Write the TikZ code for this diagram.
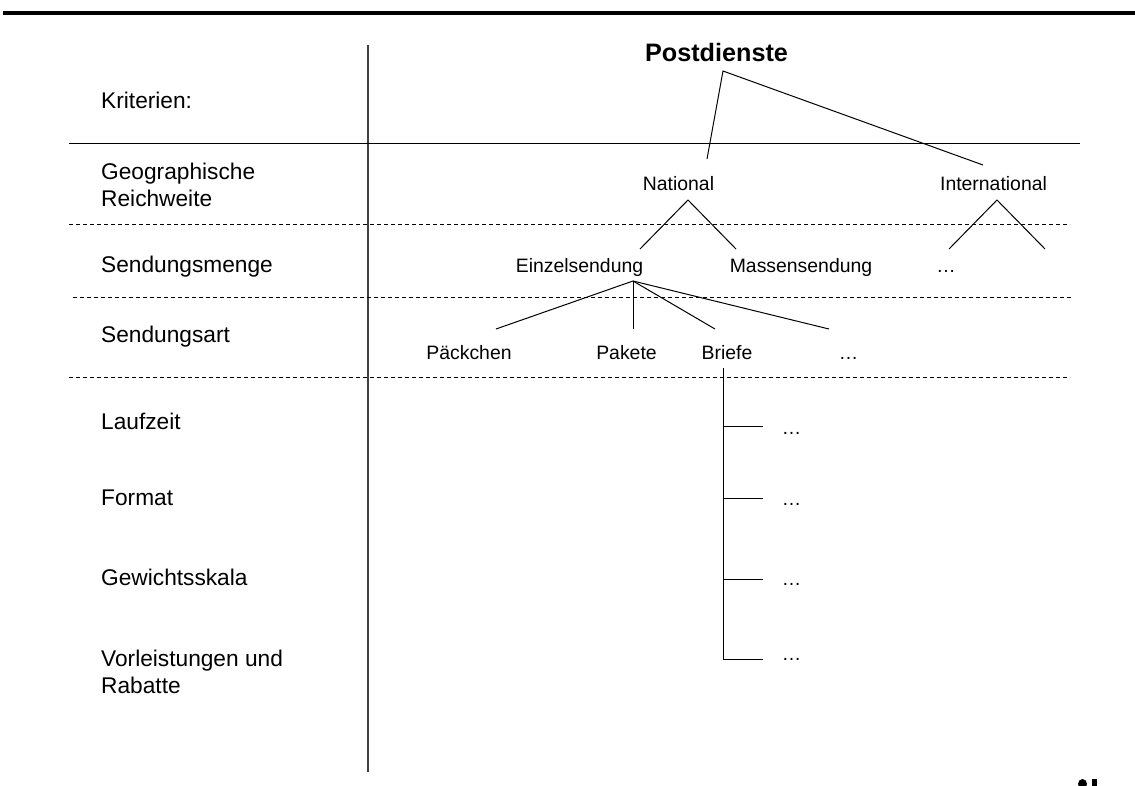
\documentclass[tikz,border=0pt]{standalone}
\usepackage{fontspec}
\setmainfont{Liberation Sans}
\begin{document}
\begin{tikzpicture}[x=1pt,y=-1pt,
  crit/.style={anchor=base west, inner sep=0pt, font=\fontsize{22.7}{27}\selectfont, align=left},
  lbl/.style={anchor=base, inner sep=0pt, font=\fontsize{19.4}{23}\selectfont},
  title/.style={anchor=base, inner sep=0pt, font=\bfseries\fontsize{25.2}{30}\selectfont},
  tline/.style={line width=1pt, black},
  sepline/.style={line width=1pt, dash pattern=on 4pt off 3pt},
  mainline/.style={line width=1pt},
  axisline/.style={line width=1.4pt, black!75}]
\useasboundingbox (0,0) rectangle (1135,785);

% frame lines
\coordinate (topL) at (3,13);   \coordinate (topR) at (1135,13);
\draw[line width=3.5pt] (topL) -- (topR);
\coordinate (axT) at (368,45);  \coordinate (axB) at (368,772);
\draw[axisline] (axT) -- (axB);
\coordinate (h0L) at (69,143);  \coordinate (h0R) at (1080,143);
\draw[mainline] (h0L) -- (h0R);
\coordinate (h1L) at (69,224);  \coordinate (h1R) at (1070,224);
\coordinate (h2L) at (73,297);  \coordinate (h2R) at (1073,297);
\coordinate (h3L) at (69,377);  \coordinate (h3R) at (1070,377);
\draw[sepline] (h1L) -- (h1R);
\draw[sepline] (h2L) -- (h2R);
\draw[sepline] (h3L) -- (h3R);

% criteria (two-line nodes: base = baseline of the last line)
\node[crit] (k0) at (101,108) {Kriterien:};
\node[crit] (k1) at (101,206) {Geographische\\Reichweite};
\node[crit] (k2) at (101,272) {Sendungsmenge};
\node[crit] (k3) at (101,342) {Sendungsart};
\node[crit] (k4) at (101,429) {Laufzeit};
\node[crit] (k5) at (101,505) {Format};
\node[crit] (k6) at (101,585) {Gewichtsskala};
\node[crit] (k7) at (101,693) {Vorleistungen und\\Rabatte};

% tree labels
\node[title] (post) at (716.5,61) {Postdienste};
\node[lbl] (nat) at (678.5,190) {National};
\node[lbl] (int) at (993.5,190) {International};
\node[lbl] (ein) at (579.5,272) {Einzelsendung};
\node[lbl] (mas) at (801,272) {Massensendung};
\node[lbl] (d1) at (946,272) {…};
\node[lbl] (pae) at (469,359) {Päckchen};
\node[lbl] (pak) at (626.5,359) {Pakete};
\node[lbl] (bri) at (727,359) {Briefe};
\node[lbl] (d2) at (848.5,359) {…};
\node[lbl] (b1) at (791.5,434) {…};
\node[lbl] (b2) at (791.5,505) {…};
\node[lbl] (b3) at (791.5,585) {…};
\node[lbl] (b4) at (791.5,660) {…};

% tree connectors
\coordinate (pA) at (723,71);
\coordinate (natT) at (707,159);
\coordinate (intT) at (983,165);
\draw[tline] (natT) -- (pA) -- (intT);

\coordinate (natA) at (688,200);
\coordinate (natL) at (640,249);
\coordinate (natR) at (736,249);
\draw[tline] (natL) -- (natA) -- (natR);

\coordinate (intA) at (997,200);
\coordinate (intL) at (949,249);
\coordinate (intR) at (1045,249);
\draw[tline] (intL) -- (intA) -- (intR);

\coordinate (einA) at (633,281);
\coordinate (e1) at (496,329);
\coordinate (e2) at (633,329);
\coordinate (e3) at (715,329);
\coordinate (e4) at (829,329);
\draw[tline] (einA) -- (e1);
\draw[tline] (einA) -- (e2);
\draw[tline] (einA) -- (e3);
\draw[tline] (einA) -- (e4);

\coordinate (brT) at (723,368);
\coordinate (brB) at (723,659);
\draw[tline] (brT) -- (brB);
\coordinate (r1a) at (723,426); \coordinate (r1b) at (763,426);
\coordinate (r2a) at (723,498); \coordinate (r2b) at (763,498);
\coordinate (r3a) at (723,579); \coordinate (r3b) at (763,579);
\coordinate (r4a) at (723,659); \coordinate (r4b) at (763,659);
\draw[tline] (r1a) -- (r1b);
\draw[tline] (r2a) -- (r2b);
\draw[tline] (r3a) -- (r3b);
\draw[tline] (r4a) -- (r4b);

% cut-off mark at the bottom right
\fill (1082.5,784) circle[x radius=4.5pt, y radius=5pt];
\fill (1092,779) rectangle (1097,790);
\end{tikzpicture}
\end{document}
